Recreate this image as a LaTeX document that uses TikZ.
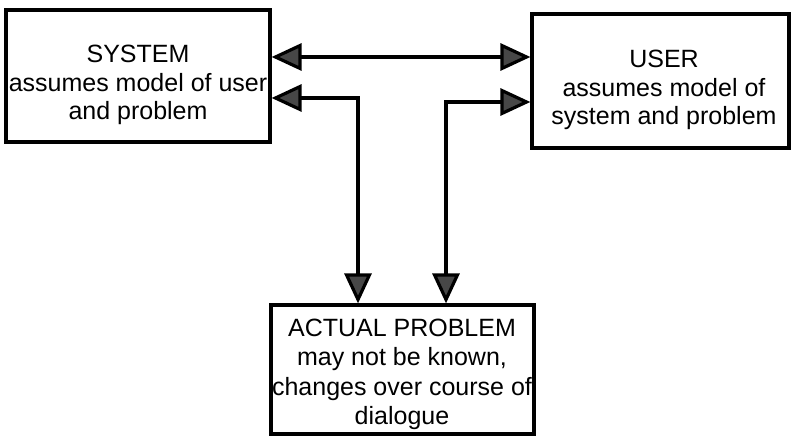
\documentclass[tikz,border=0pt]{standalone}
\usepackage{fontspec}
\setmainfont{Liberation Sans}
\usetikzlibrary{arrows.meta}
\tikzset{
  >={Triangle[length=30pt,width=27pt,fill=black!72]},
  frame/.style={draw=black, line width=3.2pt, inner sep=0pt},
  label txt/.style={align=center, inner sep=0pt, anchor=north, font=\fontsize{25pt}{28.5pt}\selectfont},
  link/.style={draw=black, line width=3.2pt, <->},
}
\begin{document}
\begin{tikzpicture}[x=1pt,y=-1pt]
  \useasboundingbox (0,0) rectangle (792,443);
  % the three boxes
  \node[frame, minimum width=264pt, minimum height=132pt] (sys) at (138,76) {};
  \node[frame, minimum width=257pt, minimum height=134pt] (user) at (660.5,81) {};
  \node[frame, minimum width=263pt, minimum height=129pt] (prob) at (402.5,369.5) {};
  % their texts
  \node[label txt] (systxt) at (138,45)
    {SYSTEM\\assumes model of user\\and problem};
  \node[label txt] (usertxt) at (664,50)
    {USER\\assumes model of\\system and problem};
  \node[label txt, font=\fontsize{25pt}{29.5pt}\selectfont] (probtxt) at (402,318.5)
    {ACTUAL PROBLEM\\may not be known,\\changes over course of\\dialogue};
  % bend points of the connectors
  \coordinate (top) at (400,57);
  \coordinate (ka) at (358,98);
  \coordinate (kb) at (446,102);
  % connectors
  \draw[link] (sys.east |- top) -- (user.west |- top);
  \draw[link] (sys.east |- ka) -| (prob.north -| ka);
  \draw[link] (user.west |- kb) -| (prob.north -| kb);
\end{tikzpicture}
\end{document}
